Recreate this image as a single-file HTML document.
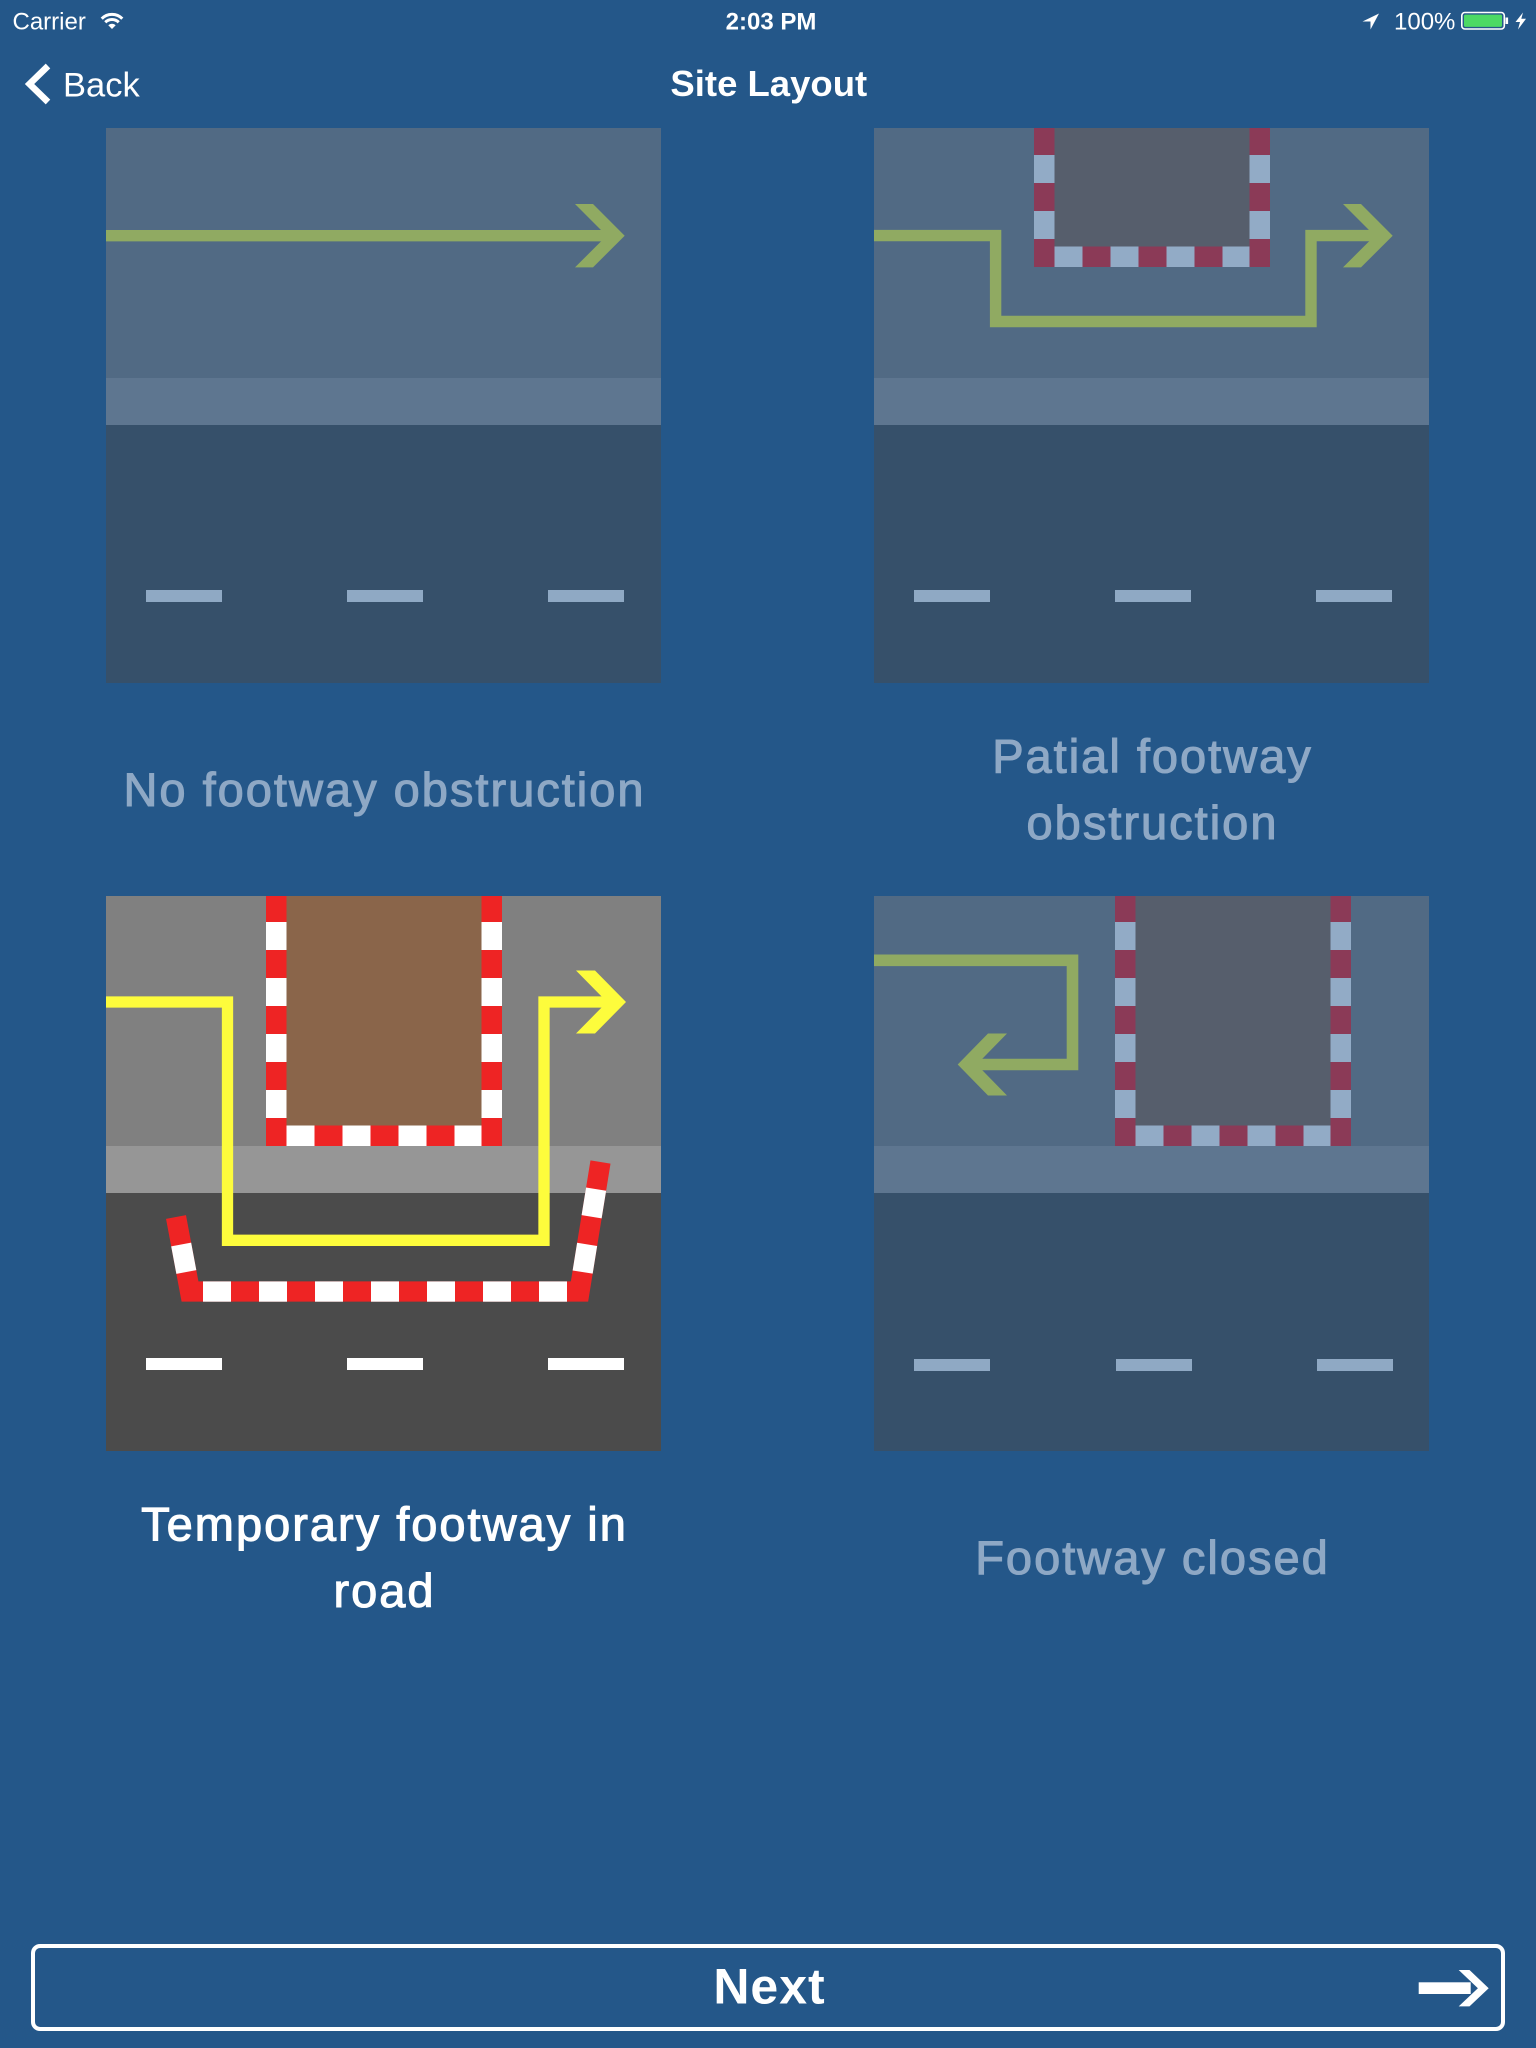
<!DOCTYPE html>
<html><head><meta charset="utf-8"><style>
html,body{margin:0;padding:0;background:#245789;}
svg{display:block}
text{font-family:"Liberation Sans",Arial,sans-serif}
</style></head><body>
<svg width="1536" height="2048" viewBox="0 0 1536 2048" xmlns="http://www.w3.org/2000/svg">
<rect width="1536" height="2048" fill="#245789"/>

<!-- status bar -->
<text x="12.5" y="29.3" font-size="24" fill="#fff">Carrier</text>
<g fill="none" stroke="#fff" stroke-width="3">
  <path d="M101.7,18.7 A14.5,14.5 0 0 1 122.3,18.7"/>
  <path d="M105.3,22.3 A9.5,9.5 0 0 1 118.7,22.3"/>
</g>
<path d="M112,29 L108.3,25.3 A5.2,5.2 0 0 1 115.7,25.3 Z" fill="#fff"/>
<text x="771" y="29.3" font-size="24" font-weight="bold" fill="#fff" text-anchor="middle">2:03 PM</text>
<polygon points="1379,13.5 1362.5,21.5 1370.5,21.5 1370.5,29.5" fill="#fff"/>
<text x="1394" y="29.3" font-size="24" fill="#fff">100%</text>
<rect x="1461.8" y="12.5" width="42.5" height="16.5" rx="3" fill="none" stroke="#fff" stroke-width="1.6"/>
<rect x="1464" y="14.6" width="38" height="12.3" rx="1.5" fill="#4cd964"/>
<rect x="1505.5" y="17.5" width="2.6" height="6.5" fill="#fff"/>
<polygon points="1523,12.5 1515.5,22 1520,22 1518,29.5 1526,18.8 1521.3,18.8" fill="#fff"/>

<!-- nav bar -->
<polyline points="48,66 29.5,84 48,102" fill="none" stroke="#fff" stroke-width="6.5"/>
<text x="63" y="96.7" font-size="34.5" fill="#fff">Back</text>
<text x="768.8" y="96" font-size="36.5" font-weight="bold" fill="#fff" text-anchor="middle">Site Layout</text>

<!-- Panel 1 -->
<g transform="translate(106,128)">
  <rect x="0" y="0" width="555" height="250" fill="#516a84"/>
  <rect x="0" y="250" width="555" height="47" fill="#5e7690"/>
  <rect x="0" y="297" width="555" height="258" fill="#36506a"/>
  <g fill="#8fa9c4">
    <rect x="40" y="462" width="76" height="12"/>
    <rect x="241" y="462" width="76" height="12"/>
    <rect x="442" y="462" width="76" height="12"/>
  </g>
  <path d="M0,107.7 H505" stroke="#90aa62" stroke-width="11.4" fill="none"/>
  <polygon points="469,76 487,76 518.7,107.7 487,139.4 469,139.4 500.7,107.7" fill="#90aa62"/>
</g>

<!-- Panel 2 -->
<g transform="translate(874,128)">
  <rect x="0" y="0" width="555" height="250" fill="#516a84"/>
  <rect x="0" y="250" width="555" height="47" fill="#5e7690"/>
  <rect x="0" y="297" width="555" height="258" fill="#36506a"/>
  <g fill="#8fa9c4">
    <rect x="40" y="462" width="76" height="12"/>
    <rect x="241" y="462" width="76" height="12"/>
    <rect x="442" y="462" width="76" height="12"/>
  </g>
  <rect x="160" y="0" width="236" height="139" fill="#565e6c"/>
  <rect x="160" y="0" width="20.5" height="139" fill="#8b3a57"/>
  <rect x="375.5" y="0" width="20.5" height="139" fill="#8b3a57"/>
  <rect x="160" y="118.5" width="236" height="20.5" fill="#8b3a57"/>
  <g stroke="#92abc6" stroke-width="20.5" fill="none">
    <line x1="170.25" y1="139" x2="170.25" y2="0" stroke-dasharray="28 28" stroke-dashoffset="28"/>
    <line x1="385.75" y1="139" x2="385.75" y2="0" stroke-dasharray="28 28" stroke-dashoffset="28"/>
    <line x1="180.5" y1="128.75" x2="375.5" y2="128.75" stroke-dasharray="28 28"/>
  </g>
  <path d="M0,107.6 H121.6 V193.5 H437 V107.6 H505" stroke="#90aa62" stroke-width="11.4" fill="none" stroke-linejoin="miter"/>
  <polygon points="469,76 487,76 518.7,107.7 487,139.4 469,139.4 500.7,107.7" fill="#90aa62"/>
</g>

<!-- Panel 3 -->
<g transform="translate(106,896)">
  <rect x="0" y="0" width="555" height="250" fill="#808080"/>
  <rect x="0" y="250" width="555" height="47" fill="#969696"/>
  <rect x="0" y="297" width="555" height="258" fill="#4b4b4b"/>
  <g fill="#ffffff">
    <rect x="40" y="462" width="76" height="12"/>
    <rect x="241" y="462" width="76" height="12"/>
    <rect x="442" y="462" width="76" height="12"/>
  </g>
  <rect x="160" y="0" width="236" height="250" fill="#8a654a"/>
  <rect x="160" y="0" width="20.5" height="250" fill="#ee2424"/>
  <rect x="375.5" y="0" width="20.5" height="250" fill="#ee2424"/>
  <rect x="160" y="229.5" width="236" height="20.5" fill="#ee2424"/>
  <g stroke="#ffffff" stroke-width="20.5" fill="none">
    <line x1="170.25" y1="250" x2="170.25" y2="0" stroke-dasharray="28 28" stroke-dashoffset="28"/>
    <line x1="385.75" y1="250" x2="385.75" y2="0" stroke-dasharray="28 28" stroke-dashoffset="28"/>
    <line x1="180.5" y1="239.75" x2="375.5" y2="239.75" stroke-dasharray="28 28"/>
  </g>
  <polyline points="70,321 84,395.5 473.5,395.5 494.5,266" fill="none" stroke="#ee2424" stroke-width="20.3" stroke-linejoin="miter"/>
  <g stroke="#ffffff" stroke-width="20.3" fill="none">
    <line x1="70" y1="321" x2="84" y2="395.5" stroke-dasharray="0 28 28 500"/>
    <line x1="494.5" y1="266" x2="473.5" y2="395.5" stroke-dasharray="0 27.5 28 28 28 500"/>
  </g>
  <g fill="#ffffff">
    <rect x="97" y="385.4" width="28" height="20.3"/>
    <rect x="153" y="385.4" width="28" height="20.3"/>
    <rect x="209" y="385.4" width="28" height="20.3"/>
    <rect x="265" y="385.4" width="28" height="20.3"/>
    <rect x="321" y="385.4" width="28" height="20.3"/>
    <rect x="377" y="385.4" width="28" height="20.3"/>
    <rect x="433" y="385.4" width="28" height="20.3"/>
  </g>
  <path d="M0,106 H121.5 V344.3 H438 V106 H505" stroke="#fdfc3c" stroke-width="11.3" fill="none" stroke-linejoin="miter"/>
  <polygon points="470,74.5 489,74.5 520,106 489,137.5 470,137.5 501,106" fill="#fdfc3c"/>
</g>

<!-- Panel 4 -->
<g transform="translate(874,896)">
  <rect x="0" y="0" width="555" height="250" fill="#516a84"/>
  <rect x="0" y="250" width="555" height="47" fill="#5e7690"/>
  <rect x="0" y="297" width="555" height="258" fill="#36506a"/>
  <g fill="#8fa9c4">
    <rect x="40" y="463" width="76" height="12"/>
    <rect x="242" y="463" width="76" height="12"/>
    <rect x="443" y="463" width="76" height="12"/>
  </g>
  <rect x="241" y="0" width="236" height="250" fill="#565e6c"/>
  <rect x="241" y="0" width="20.5" height="250" fill="#8b3a57"/>
  <rect x="456.5" y="0" width="20.5" height="250" fill="#8b3a57"/>
  <rect x="241" y="229.5" width="236" height="20.5" fill="#8b3a57"/>
  <g stroke="#92abc6" stroke-width="20.5" fill="none">
    <line x1="251.25" y1="250" x2="251.25" y2="0" stroke-dasharray="28 28" stroke-dashoffset="28"/>
    <line x1="466.75" y1="250" x2="466.75" y2="0" stroke-dasharray="28 28" stroke-dashoffset="28"/>
    <line x1="261.5" y1="239.75" x2="456.5" y2="239.75" stroke-dasharray="28 28"/>
  </g>
  <path d="M0,64.3 H198.5 V168.5 H98" stroke="#90aa62" stroke-width="11.6" fill="none" stroke-linejoin="miter"/>
  <polygon points="133,137.5 114,137.5 83.7,168.5 114,199.5 133,199.5 102.7,168.5" fill="#90aa62"/>
</g>

<!-- labels -->
<g font-size="47" letter-spacing="2" text-anchor="middle" stroke-width="1.1">
  <text x="384.5" y="806" fill="#8ea8c5" stroke="#8ea8c5">No footway obstruction</text>
  <text x="1152.5" y="772.7" fill="#8ea8c5" stroke="#8ea8c5">Patial footway</text>
  <text x="1152.5" y="839" fill="#8ea8c5" stroke="#8ea8c5">obstruction</text>
  <text x="384.5" y="1540.7" fill="#ffffff" stroke="#ffffff">Temporary footway in</text>
  <text x="384.5" y="1607" fill="#ffffff" stroke="#ffffff">road</text>
  <text x="1152.5" y="1574" fill="#8ea8c5" stroke="#8ea8c5">Footway closed</text>
</g>

<!-- Next button -->
<rect x="33" y="1946" width="1470" height="83" rx="7" fill="none" stroke="#fff" stroke-width="4"/>
<text x="769.5" y="2003.3" font-size="50" font-weight="bold" letter-spacing="1" fill="#fff" text-anchor="middle">Next</text>
<rect x="1418.7" y="1982.3" width="52" height="11.7" fill="#fff"/>
<polygon points="1458.7,1970 1469.5,1970 1488.7,1988.2 1469.5,2006.4 1458.7,2006.4 1477.9,1988.2" fill="#fff"/>
</svg>
</body></html>
